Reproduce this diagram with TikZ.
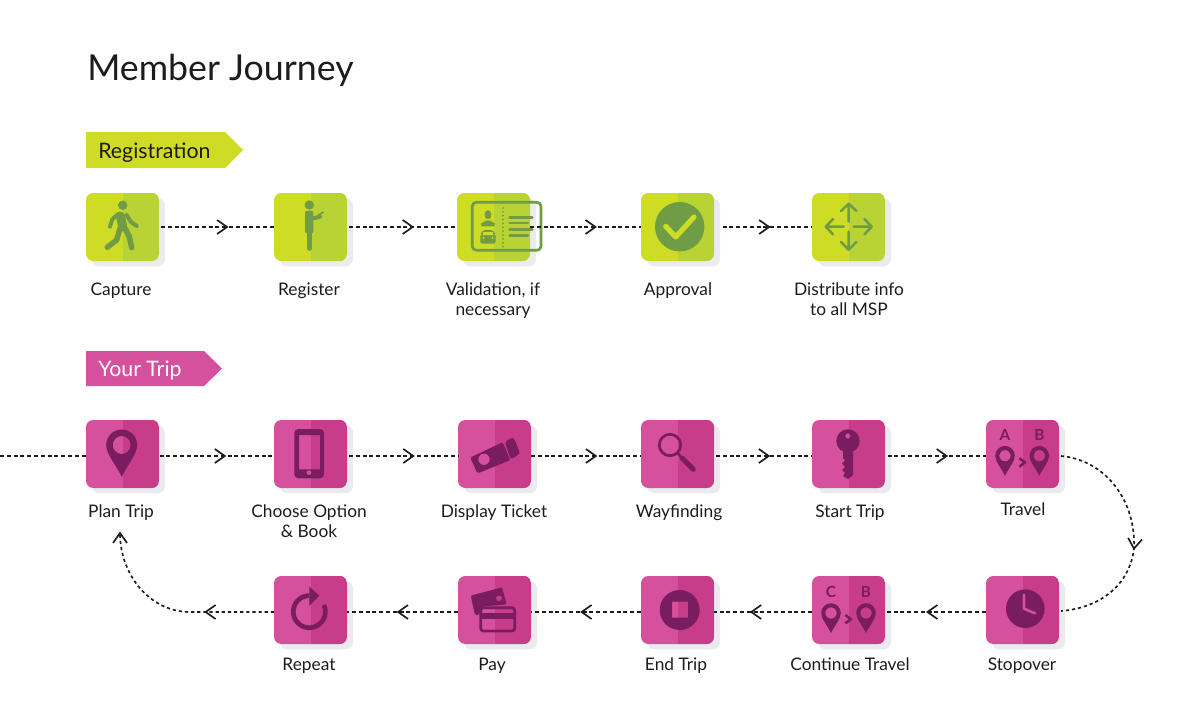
\documentclass[tikz,border=0pt]{standalone}
\usepackage{fontspec}
\setmainfont{Lato}
\usetikzlibrary{shadows,decorations.markings,calc}
\definecolor{gl}{HTML}{CFDC26}
\definecolor{gr}{HTML}{B9D334}
\definecolor{gi}{HTML}{6F9C44}
\definecolor{pl}{HTML}{D6519D}
\definecolor{pr}{HTML}{C73D8A}
\definecolor{pi}{HTML}{7A1C60}
\definecolor{sh}{HTML}{E9EBEE}
\definecolor{ink}{HTML}{1C1C1C}
\tikzset{
  x=0.75pt,y=-0.75pt,
  tilebox/.style 2 args={draw=none,fill=#1,minimum width=54.75pt,minimum height=51pt,inner sep=0pt,outer sep=0pt,rounded corners=5.5pt,
    general shadow={fill=sh,shadow xshift=4.5pt,shadow yshift=-4pt},
    path picture={\fill[#2,sharp corners] (path picture bounding box.north) rectangle (path picture bounding box.south east);}},
  gtile/.style={tilebox={gl}{gr}},
  ptile/.style={tilebox={pl}{pr}},
  lbl/.style={font=\fontsize{13}{15}\selectfont,text=ink,align=center,inner sep=0pt,anchor=base},
  bannertext/.style={font=\fontsize{16}{18}\selectfont,inner sep=0pt,anchor=base west},
  lettermark/.style={font=\fontsize{11.5}{13}\bfseries\selectfont,text=pi,inner sep=0pt},
  link/.style={draw=ink,line width=1.25pt,dash pattern=on 3pt off 2.1pt},
  curvelink/.style={draw=ink,line width=1.25pt,dash pattern=on 2.4pt off 2.2pt},
  midhead/.style={postaction={decorate,decoration={markings,mark=at position #1 with {\draw[solid,draw=ink,line width=1.25pt,miter limit=10] (-10,-7)--(0,0)--(-10,7);}}}},
  gs/.style={line width=#1*0.75pt,draw=gi,line cap=round,line join=round},
  ps/.style={line width=#1*0.75pt,draw=pi,line cap=round,line join=round},
}
\newcommand\pinicon[3]{\fill[pi,even odd rule,shift={(#1,#2)},scale=#3] (0,2.05) .. controls (-.35,1.3) and (-1,.6) .. (-1,0) .. controls (-1,-.55) and (-.55,-1) .. (0,-1) .. controls (.55,-1) and (1,-.55) .. (1,0) .. controls (1,.6) and (.35,1.3) .. (0,2.05) -- cycle (0,0) circle[radius=.58];}
\begin{document}
\begin{tikzpicture}
\useasboundingbox (0,0) rectangle (1200,717);
% title and banners
\node[font=\fontsize{26.8}{30}\selectfont,text=ink,inner sep=0pt,anchor=base west] (title) at (87,81) {Member Journey};
\fill[gl] (86,132) -- (225,132) -- (243,150) -- (225,168) -- (86,168) -- cycle;
\node[bannertext,text=ink] (regbanner) at (98,158) {Registration};
\fill[pl] (86,351) -- (204,351) -- (222,368.5) -- (204,386) -- (86,386) -- cycle;
\node[bannertext,text=white] (tripbanner) at (98,376) {Your Trip};
% tiles
\node[gtile] (capture) at (122.5,227) {};
\node[gtile] (register) at (310.5,227) {};
\node[gtile] (validation) at (493.5,227) {};
\node[gtile] (approval) at (677.5,227) {};
\node[gtile] (distribute) at (848.5,227) {};
\node[ptile] (plan) at (122.5,454) {};
\node[ptile] (choose) at (310.5,454) {};
\node[ptile] (display) at (494.5,454) {};
\node[ptile] (wayfinding) at (677.5,454) {};
\node[ptile] (start) at (848.5,454) {};
\node[ptile] (travel) at (1022.5,454) {};
\node[ptile] (repeat) at (310.5,610) {};
\node[ptile] (pay) at (494.5,610) {};
\node[ptile] (endtrip) at (677.5,610) {};
\node[ptile] (continue) at (848.5,610) {};
\node[ptile] (stopover) at (1022.5,610) {};
% labels
\node[lbl] (l1) at (121,295) {Capture};
\node[lbl] (l2) at (309,295) {Register};
\node[lbl] (l3) at (493,315) {Validation, if\\necessary};
\node[lbl] (l4) at (678,295) {Approval};
\node[lbl] (l5) at (849,315) {Distribute info\\to all MSP};
\node[lbl] (l6) at (121,517) {Plan Trip};
\node[lbl] (l7) at (309,537) {Choose Option\\\& Book};
\node[lbl] (l8) at (494,517) {Display Ticket};
\node[lbl] (l9) at (679,517) {Wayfinding};
\node[lbl] (l10) at (850,517) {Start Trip};
\node[lbl] (l11) at (1023,515) {Travel};
\node[lbl] (l12) at (309,670) {Repeat};
\node[lbl] (l13) at (492,670) {Pay};
\node[lbl] (l14) at (676,670) {End Trip};
\node[lbl] (l15) at (850,670) {Continue Travel};
\node[lbl] (l16) at (1022,670) {Stopover};
% capture icon
\begin{scope}[shift={(86,193)}]
\fill[gi] (36.7,12.3) circle[radius=4.7];
\draw[gs=9] (34.5,23)--(36.7,34);
\draw[gs=4] (32.3,21)--(26.3,26.3)--(24,33.7);
\draw[gs=4] (40.7,22)--(44.7,28.7)--(50.7,33);
\draw[gs=5.5] (34,35.3)--(30.7,47)--(21.3,54.3);
\draw[gs=5.5] (39,35.3)--(43.3,43.7)--(45.7,54.7);
\end{scope}
% register icon
\begin{scope}[shift={(274,193)}]
\fill[gi] (35.3,12) circle[radius=4.7];
\fill[gi,rounded corners=1.5pt] (31,17.7) rectangle (39.3,40.3);
\draw[gs=5] (35.3,38)--(35.3,55.3);
\draw[gs=4] (39,25.3)--(46,23.7);
\draw[gs=1.5] (44.3,22)--(49.3,19.3);
\end{scope}
% validation icon
\begin{scope}[shift={(457,193)}]
\draw[gs=2.7,rounded corners=3pt] (15.3,9.3) rectangle (84,57.3);
\fill[gi] (31,21.7) ellipse[x radius=3.5,y radius=4.5];
\fill[gi] (24.3,33.3) -- (24.3,30.5) -- (29,27.5) -- (33,27.5) -- (37.7,30.5) -- (37.7,33.3) -- cycle;
\fill[gi,rounded corners=1.5pt] (23.3,42) -- (26,37) -- (36,37) -- (38.7,42) -- (38.7,50.7) -- (23.3,50.7) -- cycle;
\fill[gl] (26.5,39) -- (35.5,39) -- (36.5,42) -- (25.5,42) -- cycle;
\fill[gl] (26.5,45) circle[radius=1.2] (35.5,45) circle[radius=1.2];
\draw[gi,line width=1.5pt,line cap=round,dash pattern=on 0pt off 2.9pt] (46,15)--(46,55);
\draw[gs=2.6] (52.7,24.3)--(75.3,24.3) (52.7,30)--(71,30) (52.7,36.7)--(75.3,36.7) (52.7,42.7)--(71,42.7);
\end{scope}
% approval icon
\begin{scope}[shift={(641,193)}]
\fill[gi] (38.7,33.7) circle[radius=24.7];
\draw[line width=3.9pt,draw=gl,line cap=round,line join=round] (24.7,33.3)--(34.7,44)--(53,24);
\end{scope}
% distribute icon
\begin{scope}[shift={(812,193)}]
\draw[gs=2.5] (36.7,10.7)--(36.7,28.7) (29,18)--(36.7,10.7)--(44.4,18);
\draw[gs=2.5] (36.7,56.7)--(36.7,38.7) (29,49)--(36.7,56.7)--(44.4,49);
\draw[gs=2.5] (13.7,33.7)--(31.7,33.7) (21,26)--(13.7,33.7)--(21,41.4);
\draw[gs=2.5] (59.7,33.7)--(41.7,33.7) (52.4,26)--(59.7,33.7)--(52.4,41.4);
\end{scope}
% plan trip icon
\begin{scope}[shift={(86,420)}]
\pinicon{35.7}{25}{15.5}
\end{scope}
% phone icon
\begin{scope}[shift={(274,420)}]
\fill[pi,even odd rule,rounded corners=3pt] (20.3,9) rectangle (50,58.3) [sharp corners] (25,15) rectangle (46,49.3) (35,52.7) circle[radius=2.5];
\end{scope}
% ticket icon
\begin{scope}[shift={(458,420)}]
\fill[pi,even odd rule,rounded corners=1.5pt] (12.2,37.5) -- (44.6,22.3) -- (52.4,40) -- (19.5,53.5) -- cycle (26,39.3) circle[radius=5.7];
\fill[pi,rounded corners=2pt] (46.7,22) -- (55.3,17) -- (62.3,33.3) -- (53,39.5) -- cycle;
\end{scope}
% wayfinding icon
\begin{scope}[shift={(641,420)}]
\draw[ps=2.7] (29,25) circle[radius=10.7];
\draw[ps=2.5] (36.5,33)--(41.3,38.3);
\draw[ps=5] (41.3,38.3)--(52.3,49.3);
\end{scope}
% key icon
\begin{scope}[shift={(812,420)}]
\fill[pi,even odd rule] (36,21) circle[radius=11.7] (36,16) circle[radius=2.7];
\fill[pi] (41,28) -- (41,55) -- (36,59) -- (31,56) -- (33,53) -- (30,50) -- (33,47) -- (30,43.5) -- (33,40.5) -- (31,38) -- (31,28) -- cycle;
\end{scope}
% travel icon
\begin{scope}[shift={(986,420)}]
\node[lettermark] (ta) at (19,15) {A};
\node[lettermark] (tb) at (53.3,15) {B};
\pinicon{19}{35.7}{9.8}
\pinicon{53.3}{35.7}{9.8}
\draw[ps=2.5,line cap=butt] (33.3,38.3)--(39,42.3)--(33.3,46.7);
\end{scope}
% continue icon
\begin{scope}[shift={(812,576)}]
\node[lettermark] (cc) at (19,16.3) {C};
\node[lettermark] (cb) at (54,16.3) {B};
\pinicon{19}{37}{9.8}
\pinicon{54}{37}{9.8}
\draw[ps=2.5,line cap=butt] (33.3,39)--(39,43.3)--(33.3,47.3);
\end{scope}
% stopover icon
\begin{scope}[shift={(986,576)}]
\fill[pi] (39.3,32.7) circle[radius=19.3];
\draw[line width=1.9pt,draw=pl,line cap=round,line join=round] (38,19)--(38,32.7)--(49,37.3);
\end{scope}
% end trip icon
\begin{scope}[shift={(641,576)}]
\fill[pi,even odd rule] (38.7,34) circle[radius=20] (31,25.7) rectangle (47,41.7);
\end{scope}
% repeat icon
\begin{scope}[shift={(274,576)}]
\draw[ps=4.7,line cap=butt] plot[domain=270:-25,samples=50,smooth] ({35.3+16*cos(\x)},{35.7+16*sin(\x)});
\fill[pi] (35.3,10.7) -- (45.3,19.7) -- (35.3,29.7) -- cycle;
\end{scope}
% pay icon
\begin{scope}[shift={(458,576)}]
\fill[pi,even odd rule,rounded corners=1pt] (12.7,19.7) -- (44,11.3) -- (48.7,28.3) -- (24.3,30.7) -- (21,39) -- (17,39) -- cycle (37.7,20.5) -- (43,19) -- (44.3,24) -- (39,25.5) -- cycle;
\draw[ps=2.7,rounded corners=2pt] (22.7,31.7) rectangle (56.7,55);
\fill[pi] (22.7,37.3) rectangle (56.7,43);
\end{scope}
% connectors
\coordinate (inleft) at (0,456);
\coordinate (c1) at ([xshift=1.5pt]capture.east);
\coordinate (c2) at ([xshift=1.5pt]register.east);
\coordinate (c4) at ([xshift=6.5pt]approval.east);
\coordinate (t1) at ([xshift=0.5pt]plan.east);
\coordinate (t2) at ([xshift=1.5pt]choose.east);
\coordinate (t3) at ([xshift=1.5pt]wayfinding.east);
\coordinate (t4) at ([xshift=2pt]start.east);
\draw[link] (inleft) -- (plan.west |- inleft);
\draw[link,midhead=.585] (c1) -- (register.west);
\draw[link,midhead=.59] (c2) -- (validation.west);
\draw[link,midhead=.59] (validation.east) -- (approval.west);
\draw[link,midhead=.52] (c4) -- (distribute.west);
\draw[link,midhead=.57] (t1 |- inleft) -- (choose.west |- inleft);
\draw[link,midhead=.59] (t2 |- inleft) -- (display.west |- inleft);
\draw[link,midhead=.59] (display.east |- inleft) -- (wayfinding.west |- inleft);
\draw[link,midhead=.55] (t3 |- inleft) -- (start.west |- inleft);
\draw[link,midhead=.6] (t4 |- inleft) -- (travel.west |- inleft);
\coordinate (tr) at (1061,456);
\coordinate (so) at (1061,611);
\coordinate (mid) at (1134,548);
\draw[curvelink,midhead=.555] (tr) .. controls (1105,460) and (1136,500) .. (mid) .. controls (1130,585) and (1100,608) .. (so);
\coordinate (row) at (0,612);
\draw[link,midhead=.58] (stopover.west |- row) -- (continue.east |- row);
\draw[link,midhead=.62] (continue.west |- row) -- (endtrip.east |- row);
\draw[link,midhead=.54] (endtrip.west |- row) -- (pay.east |- row);
\draw[link,midhead=.54] (pay.west |- row) -- (repeat.east |- row);
\coordinate (up) at (120,533);
\coordinate (bend) at (190,612);
\draw[curvelink,midhead=.34] (repeat.west |- row) -- (bend) .. controls (150,612) and (120,575) .. (up);
\draw[solid,draw=ink,line width=1.25pt] (113,543) -- (up) -- (127,543);
\end{tikzpicture}
\end{document}
